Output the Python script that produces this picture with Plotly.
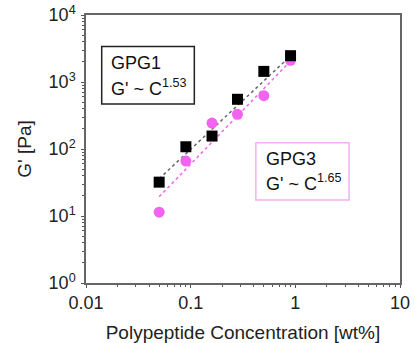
import plotly.graph_objects as go

conc = [0.05, 0.09, 0.16, 0.28, 0.5, 0.9]
gpg1 = [32, 108, 156, 552, 1440, 2470]
gpg3 = [11.4, 66, 244, 330, 625, 2110]
fit_conc = [0.05, 0.92]
fit_gpg1 = [36, 2530]
fit_gpg3 = [19.4, 2130]

y_tickvals = [1, 10, 100, 1000, 10000]
y_ticktext = ["10<sup>0</sup>", "10<sup>1</sup>", "10<sup>2</sup>", "10<sup>3</sup>", "10<sup>4</sup>"]
x_tickvals = [0.01, 0.1, 1, 10]
x_ticktext = ["0.01", "0.1", "1", "10"]

PINK = "#f264f0"
FONT = "Liberation Sans, Arial, sans-serif"

fig = go.Figure()
fig.add_trace(go.Scatter(x=fit_conc, y=fit_gpg1, mode="lines",
                         line=dict(color="#666666", width=1.5, dash="dot"), showlegend=False))
fig.add_trace(go.Scatter(x=fit_conc, y=fit_gpg3, mode="lines",
                         line=dict(color=PINK, width=1.5, dash="dot"), showlegend=False))
fig.add_trace(go.Scatter(x=conc, y=gpg3, mode="markers",
                         marker=dict(symbol="circle", size=11, color=PINK), showlegend=False))
fig.add_trace(go.Scatter(x=conc, y=gpg1, mode="markers",
                         marker=dict(symbol="square", size=11, color="#000000"), showlegend=False))

axis_common = dict(showline=True, linecolor="#666666", linewidth=1.5, mirror=True,
                   ticks="outside", ticklen=3, tickcolor="#555555", showgrid=False,
                   zeroline=False, automargin=False, ticklabeloverflow="allow",
                   tickfont=dict(family=FONT, size=18, color="#222222"))

fig.update_xaxes(type="log", range=[-2, 1], tickvals=x_tickvals, ticktext=x_ticktext,
                 minor=dict(ticks="outside", ticklen=2, dtick="D1", tickcolor="#555555"),
                 title=dict(text="Polypeptide Concentration [wt%]", font=dict(family=FONT, size=19, color="#222222"), standoff=13),
                 **axis_common)
fig.update_yaxes(type="log", range=[0, 4], tickvals=y_tickvals, ticktext=y_ticktext,
                 minor=dict(ticks="outside", ticklen=2, dtick="D1", tickcolor="#555555"),
                 ticklabelstandoff=2,
                 title=dict(text="G' [Pa]", font=dict(family=FONT, size=19, color="#222222"), standoff=12),
                 **axis_common)

# text boxes
fig.add_shape(type="rect", xref="x domain", yref="y domain", x0=0.05, x1=0.345, y0=0.668, y1=0.882,
              line=dict(color="#222222", width=1.5), fillcolor="rgba(0,0,0,0)")
fig.add_shape(type="rect", xref="x domain", yref="y domain", x0=0.541, x1=0.838, y0=0.31, y1=0.5235,
              line=dict(color="#f5b0f3", width=1.5), fillcolor="rgba(0,0,0,0)")

def add_text(txt, xd, yd):
    fig.add_annotation(text=txt, xref="x domain", yref="y domain", x=xd, y=yd,
                       xanchor="left", yanchor="middle", showarrow=False,
                       font=dict(family=FONT, size=18, color="#111111"))

add_text("GPG1", 0.074, 0.82)
add_text("G' ~ C<sup>1.53</sup>", 0.074, 0.73)
add_text("GPG3", 0.568, 0.462)
add_text("G' ~ C<sup>1.65</sup>", 0.568, 0.375)

fig.update_layout(width=418, height=343, margin=dict(l=86, r=18, t=15, b=60),
                  plot_bgcolor="white", paper_bgcolor="white",
                  font=dict(family=FONT, size=18, color="#222222"))

# remove the default 8px page margin so the figure sits at the window's top-left corner
fig.write_html("out.html", config={"displayModeBar": False},
               post_script="document.body.style.margin='0';")
